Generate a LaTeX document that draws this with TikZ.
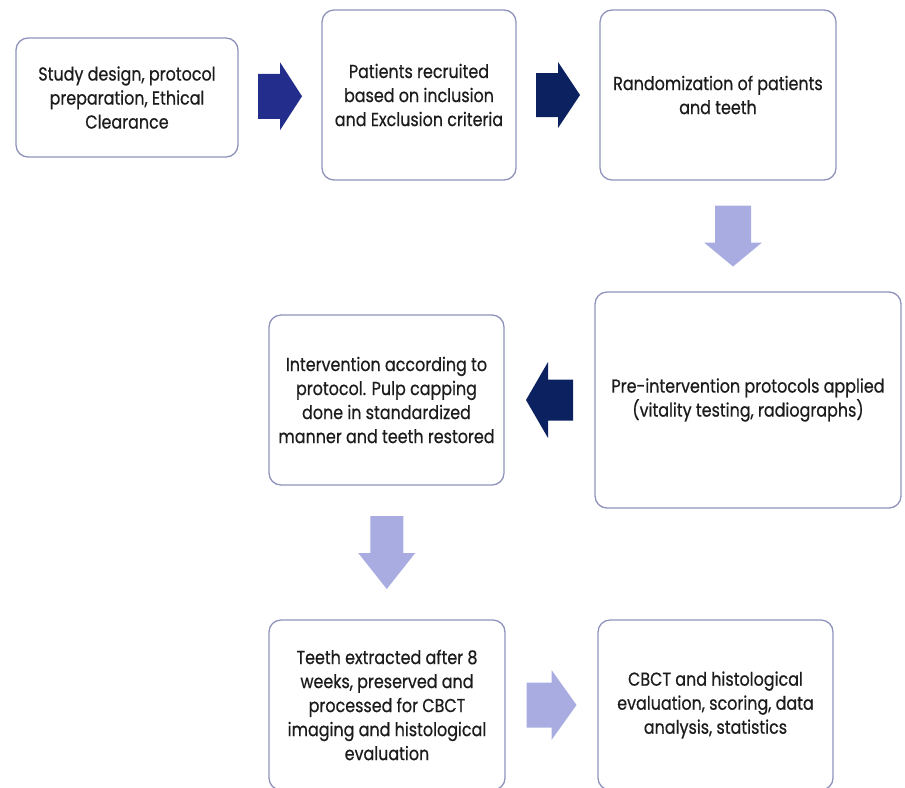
\documentclass[tikz,border=0pt]{standalone}
\usepackage{fontspec}
\setmainfont{Poppins}[FakeStretch=0.85, FakeBold=0.6]
\usetikzlibrary{calc}
\definecolor{boxline}{HTML}{8F93BC}
\definecolor{darkarrow}{HTML}{232D8C}
\definecolor{navyarrow}{HTML}{0C2260}
\definecolor{lightarrow}{HTML}{A9ACE0}
\definecolor{boxtext}{HTML}{1C1C1C}
\tikzset{
	% ------- every something
	every picture/.style={
		x=0.03cm, y=-0.03cm,
	},
	every node/.style={
		font=\fontsize{16}{20.5}\selectfont,
		text=boxtext,
	},
	% ------- custom
	step box/.style 2 args={
		draw=boxline,
		line width=1.1pt,
		rounded corners=0.36cm,
		align=center,
		minimum width=#1*0.03cm,
		minimum height=#2*0.03cm,
		inner sep=0pt,
	},
	% length, shaft, head width, head length
	pics/block arrow/.style n args={4}{
		code={
			\fill (-#1/2,-#2/2) -- (#1/2-#4,-#2/2) -- (#1/2-#4,-#3/2)
				-- (#1/2,0) -- (#1/2-#4,#3/2) -- (#1/2-#4,#2/2)
				-- (-#1/2,#2/2) -- cycle;
		}
	},
}

\begin{document}
\begin{tikzpicture}

% frame %{{{1

	\useasboundingbox (0,0) rectangle (905,787);
	\clip (0,0) rectangle (905,787);

% boxes %{{{1

	\node[step box={222}{119}] (design) at (127,97.5)
		{Study design, protocol\\preparation, Ethical\\Clearance};
	\node[step box={194}{170}] (recruit) at (419,95)
		{Patients recruited\\based on inclusion\\and Exclusion criteria};
	\node[step box={236}{170}] (random) at (718,95)
		{Randomization of patients\\and teeth};
	\node[step box={306}{216}] (pre) at (748,400)
		{Pre-intervention protocols applied\\(vitality testing, radiographs)};
	\node[step box={235}{170}] (interv) at (386.5,400)
		{Intervention according to\\protocol. Pulp capping\\done in standardized\\manner and teeth restored};
	\node[step box={236}{170}] (extract) at (387,705)
		{Teeth extracted after 8\\weeks, preserved and\\processed for CBCT\\imaging and histological\\evaluation};
	\node[step box={235}{170}] (cbct) at (715.5,705)
		{CBCT and histological\\evaluation, scoring, data\\analysis, statistics};

% block arrows %{{{1

	\pic[darkarrow] at ($(design.east)!0.5!(recruit.west)$)
		{block arrow={44}{45}{68}{22}};
	\pic[navyarrow] at ($(recruit.east)!0.5!(random.west)$)
		{block arrow={44}{44}{66}{22}};
	\pic[lightarrow, rotate=-90] at ($(random.south)!0.5!(pre.north)$)
		{block arrow={61}{36}{58}{24}};
	\pic[navyarrow, rotate=180] at ($(pre.west)!0.5!(interv.east)$)
		{block arrow={47}{41}{76}{22}};
	\pic[lightarrow, rotate=-90] at ($(interv.south)!0.5!(extract.north)$)
		{block arrow={73}{33}{57}{36}};
	\pic[lightarrow] at ($(extract.east)!0.5!(cbct.west)$)
		{block arrow={50}{45}{70}{25}};

% closing %{{{1

\end{tikzpicture}
\end{document}
